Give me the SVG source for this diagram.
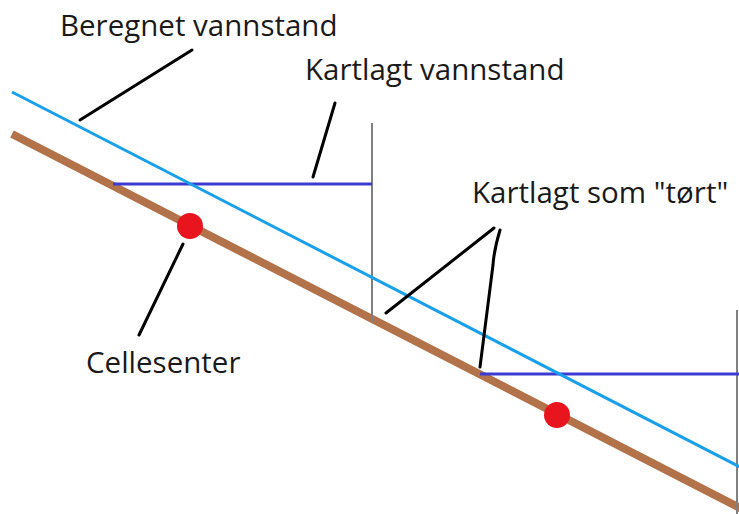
<svg xmlns="http://www.w3.org/2000/svg" width="739" height="514" viewBox="0 0 739 514">
<style>
.lbl{font-family:"Open Sans","Noto Sans","Liberation Sans",sans-serif;font-size:29.5px;fill:#1a1a1a}
.ptr{stroke:#000;stroke-width:3;fill:none;stroke-linecap:round;stroke-linejoin:round}
.wall{stroke:#808080;stroke-width:2}
.mapped{stroke:#3b3bd1;stroke-width:3}
.dot{fill:#e8141e}
</style>
<rect width="739" height="514" fill="#fff"/>
<g id="terrain">
<line x1="12" y1="134" x2="742" y2="509" stroke="#b2734a" stroke-width="8"/>
</g>
<g id="walls">
<line class="wall" x1="372" y1="123" x2="372" y2="322"/>
<line class="wall" x1="737" y1="310" x2="737" y2="514"/>
</g>
<g id="mapped-levels">
<line class="mapped" x1="113" y1="184" x2="372" y2="184"/>
<line class="mapped" x1="480" y1="374" x2="739" y2="374"/>
</g>
<g id="computed-level">
<line x1="12" y1="92" x2="742" y2="468" stroke="#1aa0ea" stroke-width="3"/>
</g>
<g id="cell-centers">
<circle class="dot" cx="190" cy="226" r="13"/>
<circle class="dot" cx="557" cy="415" r="13"/>
</g>
<g id="connectors">
<line class="ptr" x1="80" y1="120" x2="192" y2="50"/>
<line class="ptr" x1="313" y1="177" x2="335" y2="103"/>
<line class="ptr" x1="386" y1="313" x2="494" y2="228"/>
<path class="ptr" d="M500,230 Q494,250 493,265 L480,367"/>
<line class="ptr" x1="183" y1="244" x2="139" y2="335"/>
</g>
<g id="label-beregnet"><text class="lbl" x="60" y="36">Beregnet vannstand</text></g>
<g id="label-kartlagt"><text class="lbl" x="305" y="80">Kartlagt vannstand</text></g>
<g id="label-tort"><text class="lbl" x="472" y="203">Kartlagt som "tørt"</text></g>
<g id="label-celle"><text class="lbl" x="86" y="373">Cellesenter</text></g>
</svg>
